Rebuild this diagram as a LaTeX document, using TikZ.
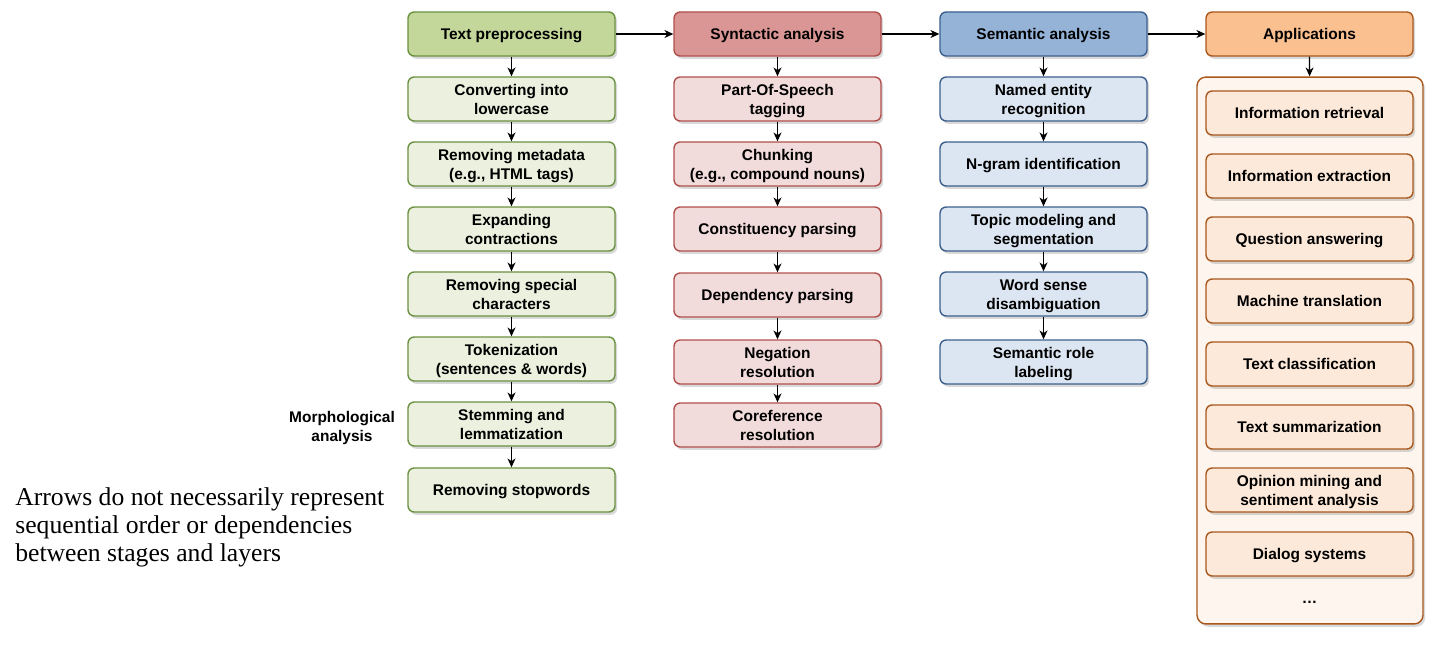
\documentclass[tikz,border=0pt]{standalone}
\usepackage{fontspec}
\setmainfont{Liberation Sans}
\newfontfamily\notefont{Liberation Serif}
\usetikzlibrary{arrows.meta,shadows}

\definecolor{prepdark}{HTML}{6A9140}
\definecolor{prephead}{HTML}{C4D79B}
\definecolor{preplight}{HTML}{EBF1DE}
\definecolor{syntdark}{HTML}{B0504D}
\definecolor{synthead}{HTML}{DA9694}
\definecolor{syntlight}{HTML}{F2DCDB}
\definecolor{semdark}{HTML}{3B5F8C}
\definecolor{semhead}{HTML}{95B3D7}
\definecolor{semlight}{HTML}{DCE6F2}
\definecolor{appdark}{HTML}{A8581C}
\definecolor{apphead}{HTML}{FAC090}
\definecolor{applight}{HTML}{FDE9D9}
\definecolor{appframe}{HTML}{FEF5EE}

\tikzset{
  stage/.style={draw, rounded corners=3.5pt, line width=0.8pt,
    minimum width=4.14cm, minimum height=0.88cm, inner sep=1pt,
    align=center, text depth=0pt, font=\bfseries\fontsize{8.8}{10.8}\selectfont,
    drop shadow={shadow xshift=1.2pt, shadow yshift=-1.6pt, opacity=0.3}},
  prepbox/.style={stage, draw=prepdark, fill=preplight},
  syntbox/.style={stage, draw=syntdark, fill=syntlight},
  sembox/.style={stage, draw=semdark, fill=semlight},
  appbox/.style={stage, draw=appdark, fill=applight},
  arr/.style={-{Stealth[length=5pt,width=4.5pt,inset=1.5pt]}, line width=0.7pt}
}

\begin{document}
\begin{tikzpicture}[x=0.02cm, y=-0.02cm]
  \useasboundingbox (0,0) rectangle (1435,648);

  % stage headers
  \node[prepbox, fill=prephead] (prep) at (511.5,34) {Text preprocessing};
  \node[syntbox, fill=synthead] (synt) at (777.5,34) {Syntactic analysis};
  \node[sembox, fill=semhead] (sem) at (1043.5,34) {Semantic analysis};
  \node[appbox, fill=apphead] (app) at (1309.5,34) {Applications};

  % text preprocessing
  \node[prepbox] (lower) at (511.5,99) {Converting into\\lowercase};
  \node[prepbox] (meta) at (511.5,164) {Removing metadata\\(e.g., HTML tags)};
  \node[prepbox] (contr) at (511.5,229) {Expanding\\contractions};
  \node[prepbox] (spec) at (511.5,294) {Removing special\\characters};
  \node[prepbox] (token) at (511.5,359) {Tokenization\\(sentences \& words)};
  \node[prepbox] (stem) at (511.5,424) {Stemming and\\lemmatization};
  \node[prepbox] (stop) at (511.5,490) {Removing stopwords};
  \node[font=\bfseries\fontsize{8.8}{10.8}\selectfont, align=center, text depth=0pt] (morph) at (342,426) {Morphological\\analysis};

  % syntactic analysis
  \node[syntbox] (pos) at (777.5,99) {Part-Of-Speech\\tagging};
  \node[syntbox] (chunk) at (777.5,164) {Chunking\\(e.g., compound nouns)};
  \node[syntbox] (const) at (777.5,229) {Constituency parsing};
  \node[syntbox] (dep) at (777.5,295) {Dependency parsing};
  \node[syntbox] (neg) at (777.5,362) {Negation\\resolution};
  \node[syntbox] (coref) at (777.5,425) {Coreference\\resolution};

  % semantic analysis
  \node[sembox] (ner) at (1043.5,99) {Named entity\\recognition};
  \node[sembox] (ngram) at (1043.5,164) {N-gram identification};
  \node[sembox] (topic) at (1043.5,229) {Topic modeling and\\segmentation};
  \node[sembox] (wsd) at (1043.5,294) {Word sense\\disambiguation};
  \node[sembox] (srl) at (1043.5,362) {Semantic role\\labeling};

  % applications
  \node[draw=appdark, fill=appframe, line width=0.8pt, rounded corners=5pt,
    minimum width=4.52cm, minimum height=10.94cm,
    drop shadow={shadow xshift=1.2pt, shadow yshift=-1.6pt, opacity=0.3}] (appframe) at (1310,350.5) {};
  \node[appbox] (ir) at (1309.5,113) {Information retrieval};
  \node[appbox] (ie) at (1309.5,176) {Information extraction};
  \node[appbox] (qa) at (1309.5,239) {Question answering};
  \node[appbox] (mt) at (1309.5,301) {Machine translation};
  \node[appbox] (tc) at (1309.5,364) {Text classification};
  \node[appbox] (ts) at (1309.5,427) {Text summarization};
  \node[appbox] (om) at (1309.5,490) {Opinion mining and\\sentiment analysis};
  \node[appbox] (ds) at (1309.5,554) {Dialog systems};
  \node[font=\bfseries\fontsize{8.8}{10.8}\selectfont] (dots) at (1309.5,602) {\dots};

  % connectors
  \draw[arr] (prep) -- (synt);
  \draw[arr] (synt) -- (sem);
  \draw[arr] (sem) -- (app);
  \draw[arr] (app) -- (appframe);

  \draw[arr] (prep) -- (lower);
  \draw[arr] (lower) -- (meta);
  \draw[arr] (meta) -- (contr);
  \draw[arr] (contr) -- (spec);
  \draw[arr] (spec) -- (token);
  \draw[arr] (token) -- (stem);
  \draw[arr] (stem) -- (stop);

  \draw[arr] (synt) -- (pos);
  \draw[arr] (pos) -- (chunk);
  \draw[arr] (chunk) -- (const);
  \draw[arr] (const) -- (dep);
  \draw[arr] (dep) -- (neg);
  \draw[arr] (neg) -- (coref);

  \draw[arr] (sem) -- (ner);
  \draw[arr] (ner) -- (ngram);
  \draw[arr] (ngram) -- (topic);
  \draw[arr] (topic) -- (wsd);
  \draw[arr] (wsd) -- (srl);

  % note
  \node[anchor=north west, inner sep=0pt, align=left,
    font=\notefont\fontsize{14.6}{16.1}\selectfont] (note) at (15,487)
    {Arrows do not necessarily represent\\sequential order or dependencies\\between stages and layers};
\end{tikzpicture}
\end{document}
